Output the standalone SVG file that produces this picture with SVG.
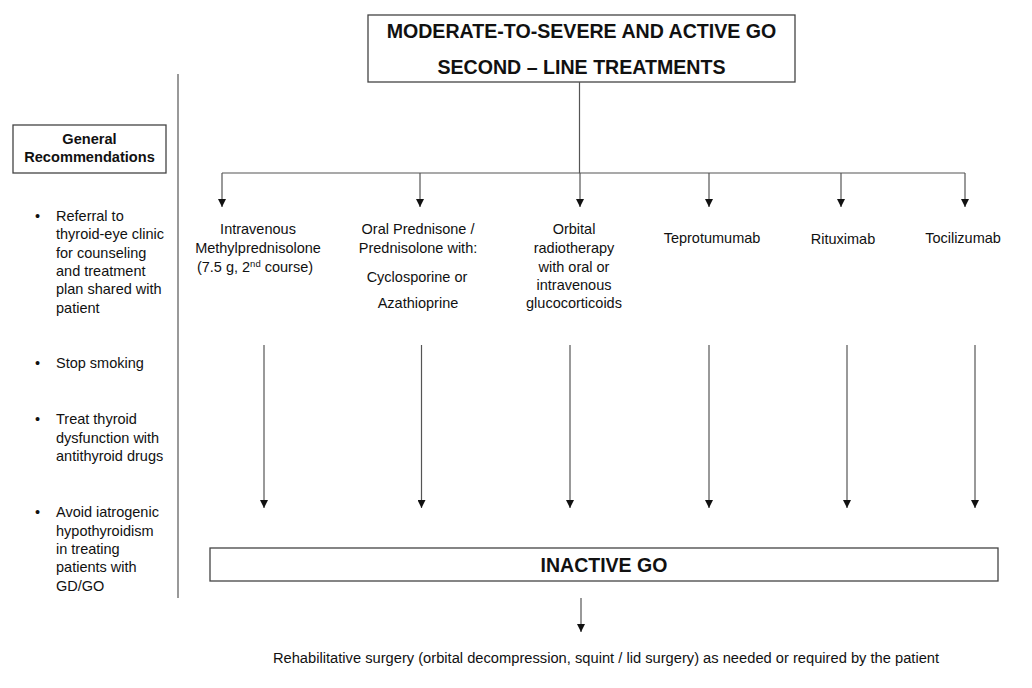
<svg xmlns="http://www.w3.org/2000/svg" width="1032" height="688" viewBox="0 0 1032 688">
<style>
  text { font-family: "Liberation Sans", Arial, sans-serif; fill: #111; }
  .box { fill: #fff; stroke: #444; stroke-width: 1.3; }
  .title { font-size: 19.6px; font-weight: bold; text-anchor: middle; }
  .lbl { font-size: 14.5px; text-anchor: middle; }
  .rec { font-size: 14.5px; }
  .hdr { font-size: 14.6px; font-weight: bold; text-anchor: middle; }
  .ln { stroke: #555; stroke-width: 1.2; fill: none; }
  .arr { stroke: #555; stroke-width: 1.2; fill: none; marker-end: url(#ah); }
</style>
<defs>
  <marker id="ah" viewBox="0 0 10 10" refX="10" refY="5" markerWidth="8" markerHeight="8" markerUnits="userSpaceOnUse" orient="auto">
    <path d="M0,0 L10,5 L0,10 z" fill="#111"/>
  </marker>
</defs>
<rect width="1032" height="688" fill="#fff"/>

<g id="top">
  <rect class="box" x="368" y="15" width="427" height="67"/>
  <text class="title" x="581.5" y="38">MODERATE-TO-SEVERE AND ACTIVE GO</text>
  <text class="title" x="581.5" y="74">SECOND – LINE TREATMENTS</text>
</g>

<g id="general">
  <rect class="box" x="13" y="125" width="153" height="48"/>
  <text class="hdr" x="89.5" y="143.5">General</text>
  <text class="hdr" x="89.5" y="161.5">Recommendations</text>
  <g class="rec">
    <text x="35" y="221">•</text>
    <text x="56" y="221">Referral to</text>
    <text x="56" y="239">thyroid-eye clinic</text>
    <text x="56" y="257.5">for counseling</text>
    <text x="56" y="276">and treatment</text>
    <text x="56" y="294">plan shared with</text>
    <text x="56" y="312.5">patient</text>
    <text x="35" y="368">•</text>
    <text x="56" y="368">Stop smoking</text>
    <text x="35" y="424">•</text>
    <text x="56" y="424">Treat thyroid</text>
    <text x="56" y="442.5">dysfunction with</text>
    <text x="56" y="461">antithyroid drugs</text>
    <text x="35" y="517">•</text>
    <text x="56" y="517">Avoid iatrogenic</text>
    <text x="56" y="535.5">hypothyroidism</text>
    <text x="56" y="554">in treating</text>
    <text x="56" y="572">patients with</text>
    <text x="56" y="590.5">GD/GO</text>
  </g>
</g>

<g id="ivmp">
  <text class="lbl" x="258" y="234">Intravenous</text>
  <text class="lbl" x="258" y="253">Methylprednisolone</text>
  <text class="lbl" x="255" y="272">(7.5 g, 2<tspan font-size="9.5" dy="-5">nd</tspan><tspan dy="5"> course)</tspan></text>
</g>
<g id="oral">
  <text class="lbl" x="418" y="234">Oral Prednisone /</text>
  <text class="lbl" x="418" y="253">Prednisolone with:</text>
  <text class="lbl" x="417" y="282">Cyclosporine or</text>
  <text class="lbl" x="418" y="308">Azathioprine</text>
</g>
<g id="orbital">
  <text class="lbl" x="574" y="234">Orbital</text>
  <text class="lbl" x="574" y="253">radiotherapy</text>
  <text class="lbl" x="574" y="271.5">with oral or</text>
  <text class="lbl" x="574" y="290">intravenous</text>
  <text class="lbl" x="574" y="308">glucocorticoids</text>
</g>
<g id="tepro"><text class="lbl" x="712" y="243">Teprotumumab</text></g>
<g id="ritux"><text class="lbl" x="843" y="244">Rituximab</text></g>
<g id="tocil"><text class="lbl" x="963" y="243">Tocilizumab</text></g>

<g id="inactive">
  <rect class="box" x="210" y="548" width="788" height="33"/>
  <text x="604" y="571.5" font-size="19.5" font-weight="bold" text-anchor="middle">INACTIVE GO</text>
</g>

<g id="surgery">
  <text x="606" y="663" font-size="14.7" text-anchor="middle">Rehabilitative surgery (orbital decompression, squint / lid surgery) as needed or required by the patient</text>
</g>

<g id="connectors">
  <line class="ln" x1="178" y1="74" x2="178" y2="598" stroke="#888"/>
  <line class="ln" x1="579.5" y1="82" x2="579.5" y2="173"/>
  <line class="ln" x1="222" y1="173" x2="965" y2="173"/>
  <line class="arr" x1="222" y1="173" x2="222" y2="207"/>
  <line class="arr" x1="420" y1="173" x2="420" y2="207"/>
  <line class="arr" x1="580" y1="173" x2="580" y2="207"/>
  <line class="arr" x1="709" y1="173" x2="709" y2="207"/>
  <line class="arr" x1="841" y1="173" x2="841" y2="207"/>
  <line class="arr" x1="965" y1="173" x2="965" y2="207"/>
  <line class="arr" x1="264" y1="345" x2="264" y2="508"/>
  <line class="arr" x1="421.5" y1="345" x2="421.5" y2="508"/>
  <line class="arr" x1="570" y1="345" x2="570" y2="508"/>
  <line class="arr" x1="709" y1="345" x2="709" y2="508"/>
  <line class="arr" x1="847" y1="345" x2="847" y2="508"/>
  <line class="arr" x1="975" y1="345" x2="975" y2="508"/>
  <line class="arr" x1="581" y1="598" x2="581" y2="632"/>
</g>
</svg>
